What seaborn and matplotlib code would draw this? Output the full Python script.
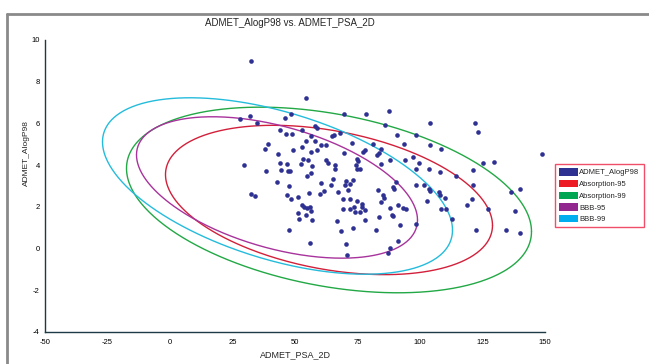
import numpy as np
import pandas as pd
import matplotlib
matplotlib.use("Agg")
import matplotlib.pyplot as plt
from matplotlib.patches import Rectangle
from matplotlib.lines import Line2D
import seaborn as sns

# ---------------- data ----------------
psa = [32.2, 54.5, 48.2, 45.8, 31.8, 27.8, 34.9, 43.8, 46.2, 48.7, 52.7, 58.1, 58.7, 56.5, 54.2,
       57.8, 60.5, 39.1, 37.8, 52.7, 49.1, 56.5, 58.7, 43.1, 53.1, 55.1, 52.5, 43.8, 46.7, 56.7,
       29.5, 38.3, 44.5, 47.1, 47.9, 56.5, 54.7, 42.7, 60.5, 47.7, 32.2, 33.8, 46.6, 55.4, 61.5,
       60.1, 48.2, 51.1, 52.7, 53.4, 54.9, 55.9, 56.2, 51.3, 51.5, 54.5, 56.9, 47.5, 56.1,
       87.4, 69.4, 78.5, 103.8, 85.8, 98.5, 90.9, 67.8, 65.4, 64.9, 72.9, 62.5, 93.5, 103.8, 108.5,
       81.1, 84.5, 69.4, 77.1, 77.8, 83.5, 82.7, 97.1, 87.8, 93.8, 62.5, 63.1, 74.7, 75.3, 65.8,
       65.8, 84.5, 74.2, 74.7, 76.1, 99.4, 98.2, 103.5, 108.1, 114.5, 90.5, 98.5, 101.4, 103.5, 103.8,
       107.4, 108.1, 109.8, 102.7, 108.5, 110.5, 112.7, 65.1, 64.5, 67.1, 70.5, 71.8, 73.1, 71.1,
       69.8, 69.1, 72.1, 74.7, 76.7, 76.9, 69.1, 71.8, 73.7, 73.9, 76.1, 77.8, 83.1, 85.1, 84.5,
       85.4, 89.1, 89.4, 91.1, 87.8, 88.9, 89.1, 93.1, 94.2, 83.5, 91.8, 98.5, 77.8, 66.7, 73.1,
       68.5, 82.2, 91.1, 87.8, 87.1, 70.2, 70.7,
       122.1, 123.1, 148.7, 125.1, 129.5, 121.1, 121.1, 136.2, 139.8, 120.9, 118.6, 127.1, 137.8,
       122.5, 134.5, 139.9]
alogp = [8.99, 7.20, 6.44, 6.26, 6.36, 6.19, 6.04, 5.67, 5.48, 5.51, 5.67, 5.87, 5.78, 5.38, 5.14,
         5.14, 4.95, 4.99, 4.79, 4.86, 4.75, 4.65, 4.73, 4.55, 4.28, 4.26, 4.07, 4.10, 4.04, 3.94,
         4.02, 3.70, 3.75, 3.70, 3.70, 3.64, 3.48, 3.19, 3.16, 2.98, 2.63, 2.51, 2.55, 2.66, 2.77,
         2.60, 2.36, 2.47, 2.10, 1.99, 1.94, 1.99, 1.78, 1.72, 1.43, 1.59, 1.39, 0.91, 0.27,
         6.60, 6.44, 6.43, 6.00, 5.91, 5.43, 5.43, 5.54, 5.43, 5.38, 5.08, 4.95, 5.03, 4.95, 4.79,
         4.99, 4.79, 4.58, 4.63, 4.71, 4.58, 4.47, 4.39, 4.26, 4.23, 4.26, 4.10, 4.31, 4.18, 3.99,
         3.80, 4.07, 3.99, 3.83, 3.80, 4.10, 3.83, 3.83, 3.67, 3.48, 3.19, 3.03, 3.03, 2.84, 2.74,
         2.71, 2.55, 2.44, 2.29, 1.91, 1.91, 1.43, 3.32, 3.03, 2.71, 3.24, 3.11, 3.27, 2.79,
         3.03, 2.36, 2.36, 2.27, 2.15, 1.99, 1.91, 1.91, 1.99, 1.75, 1.75, 1.83, 2.79, 2.55, 2.23,
         2.42, 2.95, 2.87, 2.10, 1.96, 1.62, 1.54, 1.96, 1.88, 1.50, 1.11, 1.19, 1.39, 1.31, 1.00,
         0.83, 0.91, 0.38, 0.01, -0.21, 0.23, -0.30,
         6.00, 5.59, 4.55, 4.12, 4.15, 3.78, 3.06, 2.71, 2.87, 2.36, 2.07, 1.88, 1.78,
         0.90, 0.87, 0.75]

# ellipses: name, centre PSA, centre AlogP, half width (PSA), half height (AlogP), correlation
ell_names = ["Absorption-95", "Absorption-99", "BBB-95", "BBB-99"]
ell_cx = [63.6, 63.6, 42.8, 43.0]
ell_cy = [2.33, 2.33, 2.93, 3.00]
ell_w = [65.4, 81.0, 56.2, 70.0]
ell_h = [3.58, 4.45, 3.39, 4.23]
ell_rho = [-0.34, -0.34, -0.46, -0.50]
ell_colors = ["#d2203a", "#22a845", "#a8339c", "#25bcdc"]

point_label = "ADMET_AlogP98"
point_color = "#2e3192"
legend_colors = [point_color, "#ed1c24", "#00a651", "#92278f", "#00aeef"]

x_ticks = [-50, -25, 0, 25, 50, 75, 100, 125, 150]
y_ticks = [-4, -2, 0, 2, 4, 6, 8, 10]

# ---------------- figure ----------------
sns.set_theme(style="white")
plt.rcParams["font.family"] = ["Liberation Sans", "DejaVu Sans"]

W, H = 649, 364
fig = plt.figure(figsize=(W / 100, H / 100), dpi=100)
fig.patch.set_facecolor("white")

ax = fig.add_axes([45 / W, 1 - 332 / H, 500 / W, 292 / H])
ax.set_facecolor("white")

# ellipses
t = np.linspace(0, 2 * np.pi, 400)
frames = []
for n, cx, cy, w, h, r in zip(ell_names, ell_cx, ell_cy, ell_w, ell_h, ell_rho):
    frames.append(pd.DataFrame({
        "x": cx + w * np.cos(t),
        "y": cy + h * (r * np.cos(t) + np.sqrt(1 - r * r) * np.sin(t)),
        "name": n}))
edf = pd.concat(frames, ignore_index=True)
sns.lineplot(data=edf, x="x", y="y", hue="name", hue_order=ell_names,
             palette=ell_colors, sort=False, estimator=None, units="name",
             linewidth=1.0, legend=False, ax=ax, zorder=2)

pdf = pd.DataFrame({"psa": psa, "alogp": alogp})
sns.scatterplot(data=pdf, x="psa", y="alogp", color=point_color, s=11,
                linewidth=0, ax=ax, zorder=3, legend=False)

ax.set_xlim(-50, 150)
ax.set_ylim(-4, 10)
ax.set_xticks(x_ticks)
ax.set_yticks(y_ticks)
ax.set_xticklabels([str(v) for v in x_ticks])
ax.set_yticklabels([str(v) for v in y_ticks])
for s in ["top", "right"]:
    ax.spines[s].set_visible(False)
for s in ["left", "bottom"]:
    ax.spines[s].set_color("#1d3b47")
    ax.spines[s].set_linewidth(1.0)
ax.tick_params(axis="both", direction="inout", length=6, width=0.9, colors="#1d3b47",
               labelsize=5.5, labelcolor="black")
ax.tick_params(axis="y", pad=0.8)
ax.tick_params(axis="x", pad=2)
ax.grid(False)
ax.set_xlabel("ADMET_PSA_2D", fontsize=6.5, labelpad=3)
ax.set_ylabel("ADMET_AlogP98", fontsize=6)
ax.yaxis.set_label_coords((30 - 45) / 500, (332 - 153) / 292)

fig.text(290 / W, 1 - 23 / H, "ADMET_AlogP98 vs. ADMET_PSA_2D", ha="center", va="center",
         fontsize=7)

# legend
handles = [Rectangle((0, 0), 1, 1, facecolor=c, edgecolor="none") for c in legend_colors]
labels = [point_label] + ell_names
leg = fig.legend(handles, labels, loc="upper left", bbox_to_anchor=(555 / W, 1 - 164 / H),
                 frameon=True, fontsize=5.5, handlelength=2.5, handleheight=1.1,
                 handletextpad=0.15, labelspacing=0.45, borderpad=0.55, borderaxespad=0)
leg.get_frame().set_edgecolor("#ee2244")
leg.get_frame().set_linewidth(1.0)
leg.get_frame().set_boxstyle("square", pad=0)

# outer frame lines (top and left)
fig.add_artist(Line2D([7 / W, 7 / W], [0, 1 - 14 / H], transform=fig.transFigure,
                      color="#8a8a8a", linewidth=2))
fig.add_artist(Line2D([7 / W, 1], [1 - 14 / H, 1 - 14 / H], transform=fig.transFigure,
                      color="#8a8a8a", linewidth=2))

fig.savefig("out.png", dpi=100)
